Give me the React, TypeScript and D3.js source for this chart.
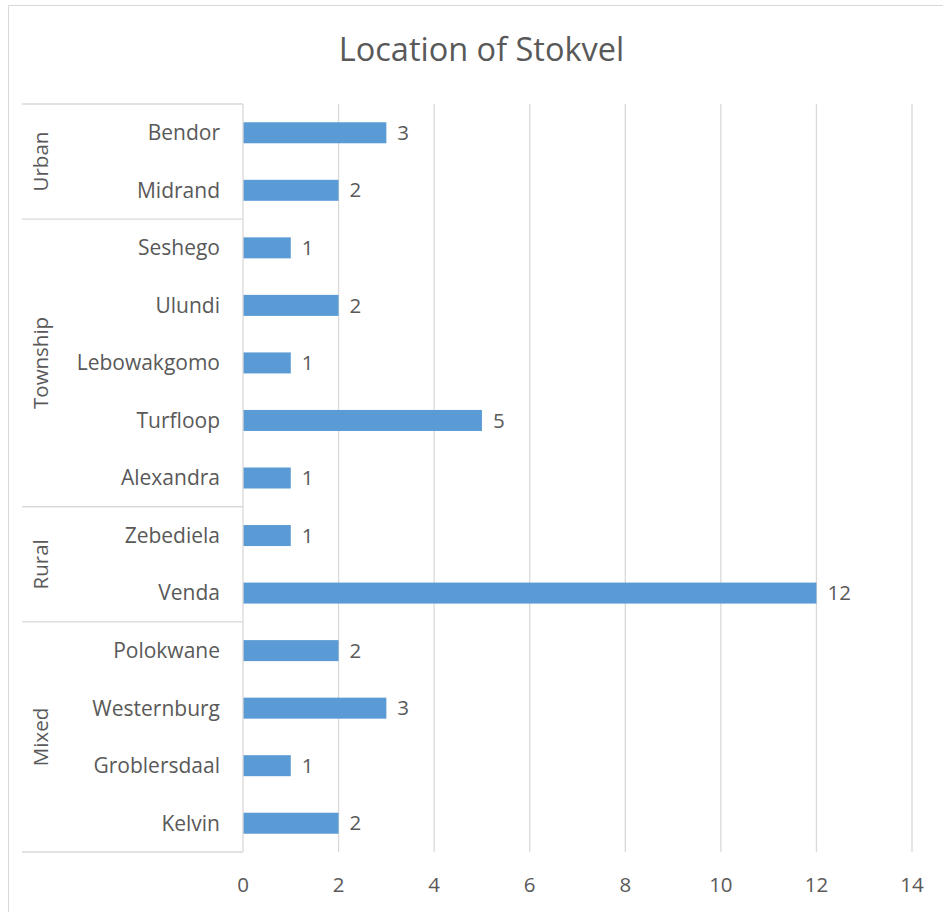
import React from "react";
import * as d3 from "d3";

const categories = [
  "Bendor", "Midrand",
  "Seshego", "Ulundi", "Lebowakgomo", "Turfloop", "Alexandra",
  "Zebediela", "Venda",
  "Polokwane", "Westernburg", "Groblersdaal", "Kelvin",
];
const values = [3, 2, 1, 2, 1, 5, 1, 1, 12, 2, 3, 1, 2];
const groups = ["Urban", "Township", "Rural", "Mixed"];
const groupSizes = [2, 5, 2, 4];
const xTicks = [0, 2, 4, 6, 8, 10, 12, 14];
const title = "Location of Stokvel";

const W = 943;
const H = 912;
const TEXT = "#595959";
const GRID = "#d9d9d9";
const BAR = "#5b9bd5";
const FONT = "'Open Sans', 'Noto Sans', sans-serif";

export default function App() {
  const x = d3.scaleLinear().domain([0, 14]).range([243, 912]);
  const y = d3
    .scaleBand<string>()
    .domain(categories)
    .range([104, 852])
    .paddingInner(0.635)
    .paddingOuter(0.3175);
  const step = y.step();
  const top = 104;

  const bounds: number[] = [0];
  groupSizes.forEach((s) => bounds.push(bounds[bounds.length - 1] + s));

  return (
    <svg
      width={W}
      height={H}
      style={{ position: "absolute", left: 0, top: 0, background: "#fff" }}
      fontFamily={FONT}
    >
      <rect x={8.5} y={5.5} width={W + 20} height={H + 20} fill="#fff" stroke={GRID} />
      <text x={481.5} y={61} textAnchor="middle" fontSize={32.5} fill={TEXT}>
        {title}
      </text>
      {xTicks.slice(1).map((t) => (
        <line key={t} x1={x(t)} x2={x(t)} y1={top} y2={852} stroke={GRID} strokeWidth={1.3} />
      ))}
      {categories.map((c, i) => (
        <rect key={c} x={x(0)} y={y(c)} width={x(values[i]) - x(0)} height={y.bandwidth()} fill={BAR} />
      ))}
      <line x1={x(0)} x2={x(0)} y1={top} y2={852} stroke={GRID} strokeWidth={1.3} />
      {bounds.map((b) => (
        <line key={b} x1={22} x2={x(0)} y1={top + b * step} y2={top + b * step} stroke={GRID} strokeWidth={1.3} />
      ))}
      {categories.map((c) => (
        <text key={c} x={220} y={(y(c) ?? 0) + y.bandwidth() / 2} dy="0.35em" textAnchor="end" fontSize={21} fill={TEXT}>
          {c}
        </text>
      ))}
      {categories.map((c, i) => (
        <text key={c} x={x(values[i]) + 11} y={(y(c) ?? 0) + y.bandwidth() / 2} dy="0.35em" fontSize={20.5} fill={TEXT}>
          {values[i]}
        </text>
      ))}
      {groups.map((g, i) => {
        const cy = top + ((bounds[i] + bounds[i + 1]) / 2) * step;
        return (
          <text key={g} transform={`translate(41,${cy}) rotate(-90)`} dy="0.35em" textAnchor="middle" fontSize={20.5} fill={TEXT}>
            {g}
          </text>
        );
      })}
      {xTicks.map((t) => (
        <text key={t} x={x(t)} y={885} dy="0.35em" textAnchor="middle" fontSize={20.5} fill={TEXT}>
          {t}
        </text>
      ))}
    </svg>
  );
}
